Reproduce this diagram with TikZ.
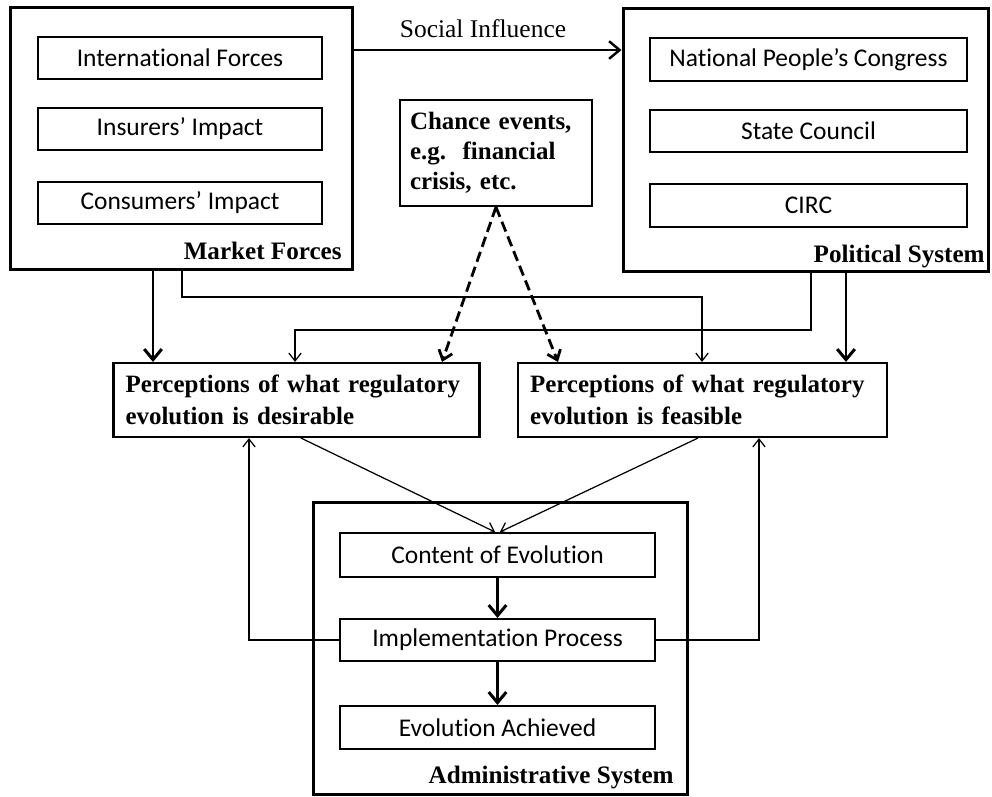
\documentclass[tikz,border=0pt]{standalone}
\usepackage{fontspec}
\setmainfont{Liberation Serif}
\newfontfamily\calibri[Ligatures={NoCommon}]{Carlito}
\usetikzlibrary{arrows,arrows.meta,calc}
\tikzstyle{outer}=[rectangle,draw=black,line width=1.7pt,inner sep=0pt]
\tikzstyle{inner}=[rectangle,draw=black,line width=1.2pt,inner sep=0pt,
  font=\calibri\fontsize{14.5}{17}\selectfont]
\tikzstyle{perc}=[rectangle,draw=black,line width=1.2pt,align=left,inner ysep=0pt,
  font=\bfseries\fontsize{14.2}{18}\selectfont]
\tikzstyle{lbl}=[inner sep=0pt,font=\bfseries\fontsize{14.3}{17}\selectfont]
\tikzstyle{thn}=[line width=0.7pt,-{Straight Barb[length=4.5pt,width=7pt]}]
\tikzstyle{thk}=[line width=1.7pt,-{Straight Barb[length=6pt,width=10pt]}]
\tikzstyle{dsh}=[line width=1.6pt,dash pattern=on 6pt off 3pt,-{Straight Barb[length=5pt,width=8pt]}]
\tikzstyle{none}=[]

\begin{document}
\begin{tikzpicture}[x=0.02cm,y=-0.02cm]
        \useasboundingbox (0,0) rectangle (992,796);
        % market forces
        \node [style=outer, minimum width=6.86cm, minimum height=5.26cm] (0) at (181.5,138.5) {};
        \node [style=inner, minimum width=5.68cm, minimum height=0.84cm] (1) at (180,58) {International Forces};
        \node [style=inner, minimum width=5.68cm, minimum height=0.84cm] (2) at (180,129) {Insurers’ Impact};
        \node [style=inner, minimum width=5.68cm, minimum height=0.84cm] (3) at (180,203) {Consumers’ Impact};
        \node [style=lbl, anchor=base east] (15) at (342,259) {Market Forces};
        % political system
        \node [style=outer, minimum width=7.32cm, minimum height=5.28cm] (4) at (806,140) {};
        \node [style=inner, minimum width=6.34cm, minimum height=0.86cm] (5) at (808.5,59.5) {National People’s Congress};
        \node [style=inner, minimum width=6.34cm, minimum height=0.84cm] (6) at (808.5,131) {State Council};
        \node [style=inner, minimum width=6.34cm, minimum height=0.86cm] (7) at (808.5,205.5) {CIRC};
        \node [style=lbl, anchor=base east] (16) at (985,262) {Political System};
        % chance events
        \node [style=perc, text width=3.44cm, inner xsep=0.2cm, minimum height=2.12cm,
          font=\bfseries\fontsize{14.2}{17}\selectfont] (8) at (496,153)
          {Chance events, e.g.\ \ financial crisis, etc.};
        % perceptions
        \node [style=perc, text width=6.84cm, inner xsep=0.24cm, minimum height=1.48cm] (9) at (296.5,400)
          {Perceptions of what regulatory\\evolution is desirable};
        \node [style=perc, text width=6.9cm, inner xsep=0.24cm, minimum height=1.48cm] (10) at (702.5,400)
          {Perceptions of what regulatory\\evolution is feasible};
        % administrative system
        \node [style=outer, minimum width=7.5cm, minimum height=5.86cm] (11) at (500.5,648.5) {};
        \node [style=inner, minimum width=6.3cm, minimum height=0.88cm] (12) at (497.5,555) {Content of Evolution};
        \node [style=inner, minimum width=6.3cm, minimum height=0.84cm] (13) at (497.5,640) {Implementation Process};
        \node [style=inner, minimum width=6.3cm, minimum height=0.86cm] (14) at (497.5,727.5) {Evolution Achieved};
        \node [style=lbl, anchor=base east] (17) at (674,783) {Administrative System};
        % social influence
        \node [style=none, anchor=base, inner sep=0pt, font=\fontsize{14.5}{17}\selectfont] (18) at (483,37) {Social Influence};
        \draw [style=thk, line width=1.4pt] (0.east |- 0,50) to (4.west |- 0,50);
        % into the perceptions
        \draw [style=thk] (0.south -| 153,0) to (9.north -| 153,0);
        \draw [style=thn] (0.south -| 182,0) |- (702,297) to (10.north -| 702,0);
        \draw [style=thn] (4.south -| 811,0) |- (295,330) to (9.north -| 295,0);
        \draw [style=thk] (4.south -| 846,0) to (10.north -| 846,0);
        \draw [style=dsh] (8.south) to (9.north -| 442,0);
        \draw [style=dsh] (8.south) to (10.north -| 558,0);
        % perceptions to content
        \draw [style=thn] (9.south -| 301,0) to (12.north -| 495,0);
        \draw [style=thn] (10.south -| 698,0) to (12.north -| 500,0);
        \draw [style=thk] (12) to (13);
        \draw [style=thk] (13) to (14);
        % feedback
        \draw [style=thn] (13.west) -| (9.south -| 249,0);
        \draw [style=thn] (13.east) -| (10.south -| 759,0);
    \end{tikzpicture}
\end{document}
